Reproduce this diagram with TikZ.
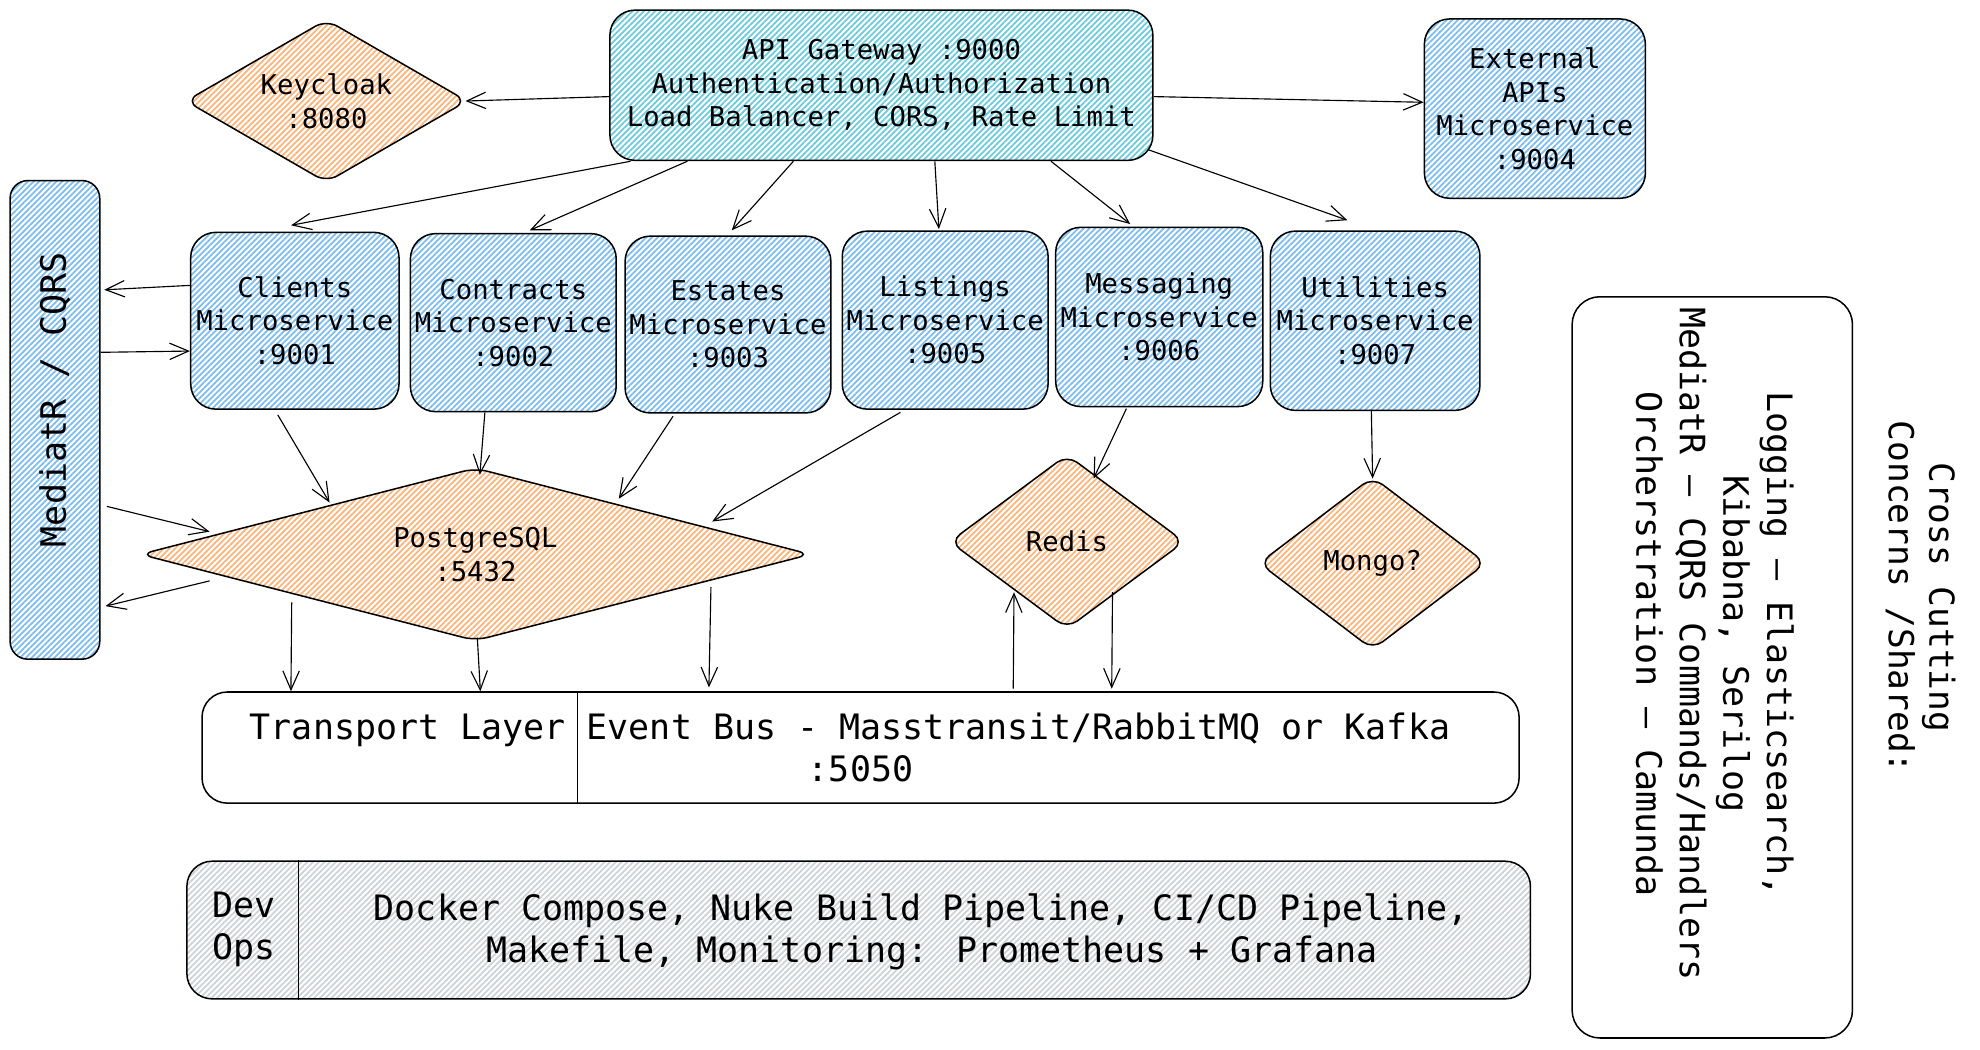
\documentclass[tikz,border=0pt]{standalone}
\usepackage{fontspec}
\newfontfamily\dvm{DejaVu Sans Mono}
\usetikzlibrary{shapes.geometric,arrows.meta,patterns.meta}
\definecolor{hblue}{HTML}{7DBCEF}
\definecolor{hcyan}{HTML}{6CCBDA}
\definecolor{horange}{HTML}{FDB47A}
\definecolor{hgray}{HTML}{CDD2D7}
\newcommand{\smfnt}{\dvm\fontsize{21.6}{26.5}\selectfont}
\newcommand{\bgfnt}{\dvm\fontsize{27.7}{33.5}\selectfont}
\newcommand{\crfnt}{\dvm\fontsize{27.7}{34.5}\selectfont}
\newcommand{\ttlfnt}{\dvm\fontsize{27.3}{32}\selectfont}
\begin{document}
\begin{tikzpicture}[x=1pt,y=-1pt,
  hatch/.style={pattern={Lines[angle=45,distance=3.2pt,line width=1.4pt]},pattern color=#1},
  boxbase/.style={draw=black,line width=1.2pt,inner sep=0pt,align=center},
  svc/.style={boxbase,rounded corners=20pt,hatch=hblue,font=\smfnt},
  dia/.style={boxbase,diamond,rounded corners=10pt,hatch=horange,font=\smfnt},
  arr/.style={-{Straight Barb[length=15pt,width=13pt]},line width=0.9pt},
]
\fill[white] (0,0) rectangle (1568,831);
\useasboundingbox (0,0) rectangle (1568,831);

% top row
\node[boxbase,rounded corners=20pt,hatch=hcyan,font=\smfnt,minimum width=430pt,minimum height=119pt] (api) at (698,67.5)
  {API Gateway :9000\\Authentication/Authorization\\Load Balancer, CORS, Rate Limit};
\node[svc,minimum width=175pt,minimum height=142pt] (ext) at (1215.5,86)
  {External\\APIs\\Microservice\\:9004};
\node[dia,shape aspect=1.72,minimum width=223pt,minimum height=129pt] (kc) at (258.5,80) {Keycloak\\:8080};

% microservices
\node[svc,minimum width=165pt,minimum height=140pt] (clients) at (233.5,254) {Clients\\Microservice\\:9001};
\node[svc,minimum width=163pt,minimum height=141pt] (contracts) at (406.5,255.5) {Contracts\\Microservice\\:9002};
\node[svc,minimum width=163pt,minimum height=140pt] (estates) at (576.5,257) {Estates\\Microservice\\:9003};
\node[svc,minimum width=163pt,minimum height=141pt] (listings) at (748.5,253.5) {Listings\\Microservice\\:9005};
\node[svc,minimum width=164pt,minimum height=142pt] (messaging) at (918,251) {Messaging\\Microservice\\:9006};
\node[svc,minimum width=166pt,minimum height=142pt] (utilities) at (1089,254) {Utilities\\Microservice\\:9007};

% MediatR
\node[boxbase,rounded corners=14pt,hatch=hblue,font=\bgfnt,minimum width=71pt,minimum height=379pt] (mediatr) at (43.5,332.5)
  {\rotatebox{90}{\hspace{32pt}MediatR / CQRS}};

% databases
\node[dia,shape aspect=3.95,minimum width=531pt,minimum height=137pt] (pg) at (376.5,439) {PostgreSQL\\:5432};
\node[dia,shape aspect=1.33,minimum width=186pt,minimum height=138pt] (redis) at (845,429) {Redis};
\node[dia,shape aspect=1.29,minimum width=180pt,minimum height=137pt] (mongo) at (1087,446) {Mongo?};

% transport
\node[boxbase,rounded corners=20pt,fill=white,font=\bgfnt,minimum width=1043pt,minimum height=88pt] (transport) at (681.5,592)
  {Transport Layer Event Bus - Masstransit/RabbitMQ or Kafka\hphantom{x}\\:5050};
\draw[line width=1pt] ([xshift=298pt]transport.north west) -- ([xshift=298pt]transport.south west);

% devops
\node[boxbase,rounded corners=20pt,hatch=hgray,minimum width=1064pt,minimum height=109pt] (devops) at (680,736.5) {};
\draw[line width=1pt] ([xshift=89pt]devops.north west) -- ([xshift=89pt]devops.south west);
\node[font=\bgfnt,align=center,inner sep=0pt] (devlbl) at (193,736) {Dev\\Ops};
\node[font=\bgfnt,align=center,inner sep=0pt] (devtxt) at (738,738)
  {Docker Compose, Nuke Build Pipeline, CI/CD Pipeline,\hphantom{x}\\Makefile, Monitoring: Prometheus + Grafana};

% cross cutting
\node[boxbase,rounded corners=22pt,fill=white,minimum width=222pt,minimum height=587pt] (cross) at (1356,528.5) {};
\node[font=\crfnt,align=center,inner sep=0pt,rotate=-90] (crosstxt) at (1358,510)
  {Logging – Elasticsearch,\\Kibabna, Serilog\\MediatR – CQRS Commands/Handlers\\Orcherstration – Camunda};
\node[font=\ttlfnt,align=center,inner sep=0pt,rotate=-90] (crossttl) at (1521,473)
  {Cross Cutting\\Concerns /Shared:};

% connectors
\draw[arr] ([yshift=-9pt]api.west) -- ([xshift=-2pt]kc.east);
\draw[arr] ([yshift=-9pt]api.east) -- ([yshift=5pt]ext.west);
\draw[arr] ([xshift=17pt]api.south west) -- ([xshift=-3pt,yshift=5pt]clients.north);
\draw[arr] ([xshift=62pt]api.south west) -- ([xshift=13pt,yshift=2pt]contracts.north);
\draw[arr] ([xshift=146pt]api.south west) -- ([xshift=3pt,yshift=4pt]estates.north);
\draw[arr] ([xshift=258pt]api.south west) -- ([xshift=-5pt,yshift=1pt]listings.north);
\draw[arr] ([xshift=350pt]api.south west) -- ([xshift=-23pt,yshift=2pt]messaging.north);
\draw[arr] ([xshift=-4pt,yshift=9pt]api.south east) -- ([xshift=-22pt,yshift=8pt]utilities.north);

\draw[arr] ([yshift=28pt]clients.west) -- ([xshift=3pt,yshift=103pt]mediatr.east);
\draw[arr] ([yshift=53.5pt]mediatr.east) -- ([yshift=-24pt]clients.west);
\draw[arr] ([xshift=5pt,yshift=-68.5pt]mediatr.east) -- ([xshift=-210.5pt,yshift=18pt]pg.center);
\draw[arr] ([xshift=-210.5pt,yshift=-21pt]pg.center) -- ([xshift=4pt,yshift=-147.5pt]mediatr.east);

\draw[arr] ([xshift=-13.5pt,yshift=-4pt]clients.south) -- ([xshift=-115.5pt,yshift=41pt]pg.center);
\draw[arr] ([xshift=-22.5pt]contracts.south) -- ([xshift=3.5pt,yshift=63pt]pg.center);
\draw[arr] ([xshift=-43.5pt,yshift=-2pt]estates.south) -- ([xshift=113.5pt,yshift=44pt]pg.center);
\draw[arr] ([xshift=-35.5pt,yshift=-2pt]listings.south) -- ([xshift=187.5pt,yshift=26pt]pg.center);
\draw[arr] ([xshift=-26pt,yshift=-1pt]messaging.south) -- ([xshift=21pt,yshift=50pt]redis.center);
\draw[arr] ([xshift=-3pt]utilities.south) -- ([yshift=67pt]mongo.center);

\draw[arr] ([xshift=-145.5pt,yshift=-38pt]pg.center) -- ([xshift=71pt]transport.north west);
\draw[arr] ([xshift=1.5pt,yshift=-66pt]pg.center) -- ([xshift=221pt]transport.north west);
\draw[arr] ([xshift=186.5pt,yshift=-26pt]pg.center) -- ([xshift=402pt,yshift=3pt]transport.north west);
\draw[arr] ([xshift=643pt,yshift=2pt]transport.north west) -- ([xshift=-42pt,yshift=-40pt]redis.center);
\draw[arr] ([xshift=36pt,yshift=-40pt]redis.center) -- ([xshift=721pt,yshift=2pt]transport.north west);
\end{tikzpicture}
\end{document}
